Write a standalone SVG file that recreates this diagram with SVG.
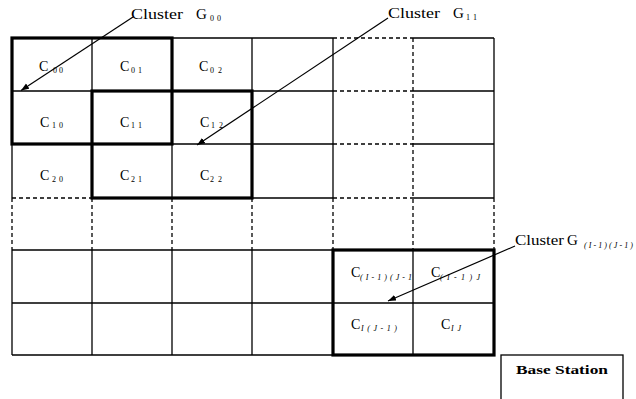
<svg xmlns="http://www.w3.org/2000/svg" width="636" height="399" viewBox="0 0 636 399">
<defs>
<style>
.g{stroke:#000;stroke-width:1.3;fill:none}
.d{stroke:#000;stroke-width:1.3;fill:none;stroke-dasharray:4 3}
.k{stroke:#000;stroke-width:3.2;fill:none}
.c{font-family:"Liberation Serif","Times New Roman",serif;font-size:14px;fill:#000}
.s{font-family:"Liberation Serif","Times New Roman",serif;font-size:8px;fill:#000}
.si{font-family:"Liberation Serif","Times New Roman",serif;font-size:8px;font-style:italic;fill:#000}
.cl{font-family:"Liberation Serif","Times New Roman",serif;font-size:15px;fill:#000}
.bs{font-family:"Liberation Serif","Times New Roman",serif;font-size:13px;font-weight:bold;fill:#000}
.a{stroke:#000;stroke-width:1.2;fill:none}
</style>
<marker id="ah" markerUnits="userSpaceOnUse" markerWidth="10" markerHeight="8" refX="8" refY="3" orient="auto">
<path d="M0,0 L8,3 L0,6 z" fill="#000"/>
</marker>
</defs>
<rect width="636" height="399" fill="#fff"/>
<g id="grid">
<path class="g" d="M12,38H333M413,38H494M12,91H333M413,91H494M12,144H333M413,144H494M92,198H333M413,198H494M12,250H494M12,303H494M12,355H494"/>
<path class="d" d="M333,38H413M333,91H413M333,144H413M12,198H92M333,198H413"/>
<path class="g" d="M12,38V198M92,38V198M172,38V198M252,38V198M333,38V198M494,38V198M12,250V355M92,250V355M172,250V355M252,250V355M333,250V355M413,250V355M494,250V355"/>
<path class="d" d="M12,198V250M92,198V250M172,198V250M252,198V250M333,198V250M413,38V250M494,198V250"/>
</g>
<g id="cells">
<text class="c" x="39" y="71">C</text><text class="s" x="53" y="73" textLength="10" lengthAdjust="spacing">00</text>
<text class="c" x="120" y="71">C</text><text class="s" x="131" y="73" textLength="11" lengthAdjust="spacing">01</text>
<text class="c" x="199" y="71">C</text><text class="s" x="210" y="73" textLength="12" lengthAdjust="spacing">02</text>
<text class="c" x="40" y="126.5">C</text><text class="s" x="52" y="128" textLength="11" lengthAdjust="spacing">10</text>
<text class="c" x="120" y="126.5">C</text><text class="s" x="131" y="128" textLength="11" lengthAdjust="spacing">11</text>
<text class="c" x="200" y="126.5">C</text><text class="s" x="211" y="128" textLength="12" lengthAdjust="spacing">12</text>
<text class="c" x="40" y="180">C</text><text class="s" x="52" y="182" textLength="11" lengthAdjust="spacing">20</text>
<text class="c" x="120" y="180">C</text><text class="s" x="131" y="182" textLength="11" lengthAdjust="spacing">21</text>
<text class="c" x="200" y="180">C</text><text class="s" x="210" y="182" textLength="12" lengthAdjust="spacing">22</text>
<text class="c" x="351" y="277">C</text><text class="si" x="360" y="280" textLength="52" lengthAdjust="spacing">(I-1)(J-1</text>
<text class="c" x="431" y="277">C</text><text class="si" x="440" y="280" textLength="40" lengthAdjust="spacing">(I-1)J</text>
<text class="c" x="351" y="329">C</text><text class="si" x="361" y="331" textLength="36" lengthAdjust="spacing">I(J-1)</text>
<text class="c" x="441" y="329">C</text><text class="si" x="451" y="331" textLength="10" lengthAdjust="spacing">IJ</text>
</g>
<g id="cluster-G00">
<rect class="k" x="12" y="38" width="160" height="106"/>
<text class="cl" x="131" y="19" textLength="52" lengthAdjust="spacingAndGlyphs">Cluster</text>
<text class="cl" x="196" y="19">G</text><text class="s" x="210" y="21" textLength="11" lengthAdjust="spacing">00</text>
</g>
<g id="cluster-G11">
<rect class="k" x="92" y="91" width="160" height="107"/>
<text class="cl" x="388" y="18" textLength="52" lengthAdjust="spacingAndGlyphs">Cluster</text>
<text class="cl" x="453" y="18">G</text><text class="s" x="466" y="20" textLength="11" lengthAdjust="spacing">11</text>
</g>
<g id="cluster-GIJ">
<rect class="k" x="333" y="250" width="161" height="105"/>
<text class="cl" x="515" y="245" textLength="49" lengthAdjust="spacingAndGlyphs">Cluster</text>
<text class="cl" x="567" y="245">G</text><text class="si" x="584" y="248" textLength="49" lengthAdjust="spacing">(I-1)(J-1)</text>
</g>
<g id="base-station">
<rect class="g" x="501" y="355" width="122" height="50"/>
<text class="bs" x="516" y="374" textLength="92" lengthAdjust="spacingAndGlyphs">Base Station</text>
</g>
<g id="connectors">
<line class="a" x1="133" y1="17" x2="21" y2="90.5" marker-end="url(#ah)"/>
<line class="a" x1="388" y1="18" x2="197" y2="145" marker-end="url(#ah)"/>
<line class="a" x1="515" y1="246" x2="388" y2="301" marker-end="url(#ah)"/>
</g>
</svg>
